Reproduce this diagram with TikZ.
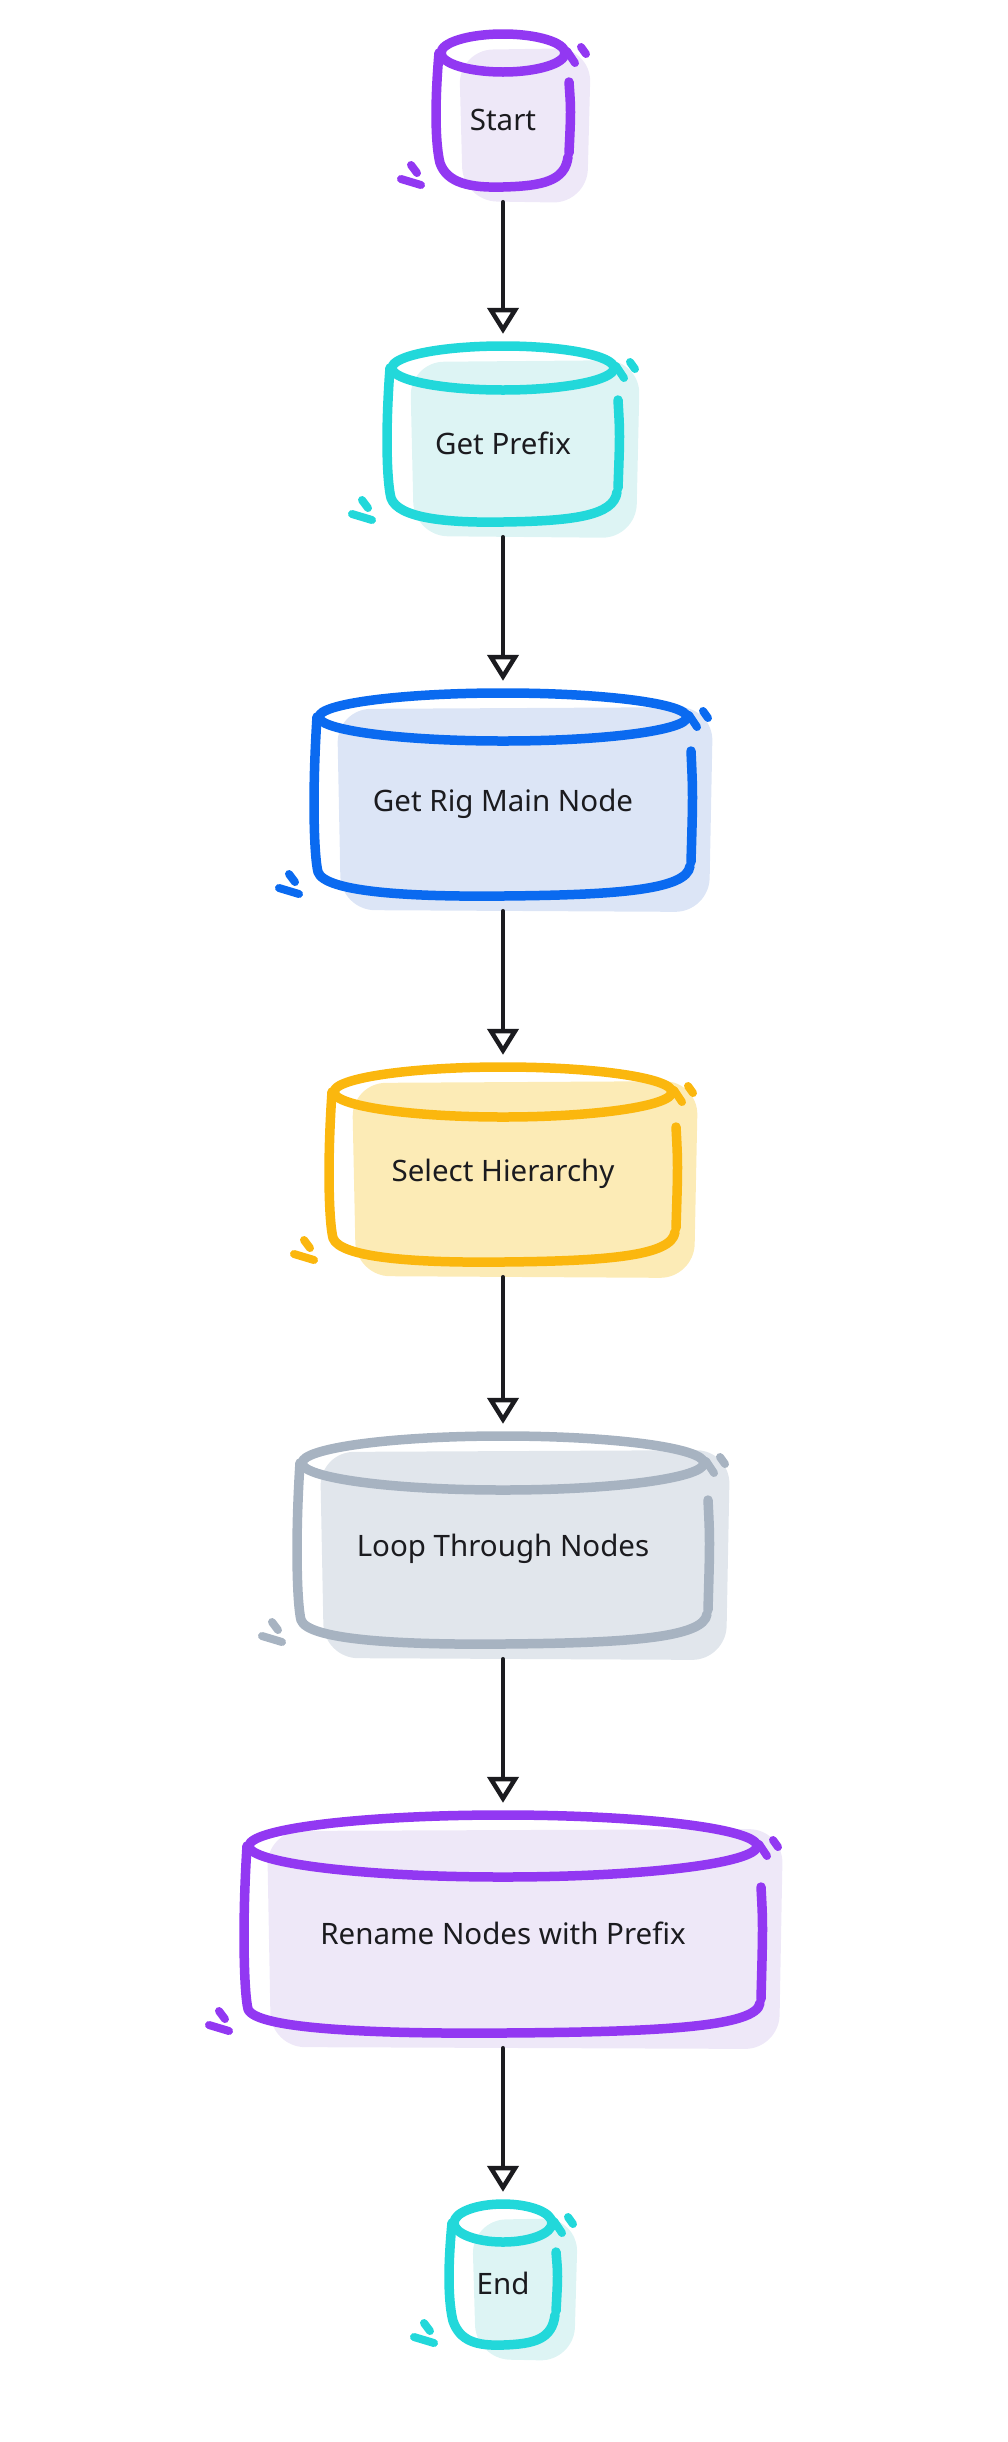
\documentclass[tikz,border=0pt]{standalone}
\usepackage{fontspec}
\setmainfont{Noto Sans}[FontFace={m}{n}{Noto Sans Medium}]
\usepackage{xcolor}
\definecolor{ink}{HTML}{1B1B1F}
\definecolor{grape}{HTML}{9238F2}
\definecolor{grapewash}{HTML}{EEE8F8}
\definecolor{aqua}{HTML}{22D8DA}
\definecolor{aquawash}{HTML}{DDF4F4}
\definecolor{azure}{HTML}{0A6AF0}
\definecolor{azurewash}{HTML}{DCE5F6}
\definecolor{amber}{HTML}{FBB70E}
\definecolor{amberwash}{HTML}{FCEBB6}
\definecolor{slate}{HTML}{A7B3C1}
\definecolor{slatewash}{HTML}{E1E6EC}
\usetikzlibrary{arrows.meta}

\begin{document}
\begin{tikzpicture}[x=1pt, y=-1pt, line cap=round, line join=round,
		cylbox/.style={inner sep=0pt, font=\fontsize{29.5}{34}\selectfont, text=ink},
		rim/.style={line width=9.5pt},
		flow/.style={line width=4.5pt, ink, -{Triangle[open, length=26pt, width=31pt]},
			shorten <=6pt, shorten >=21pt}]
	\useasboundingbox (0,0) rectangle (1008,2442);

	% Sketched cylinders: name/centre/top/bottom/half width/rim/colours/text
	\foreach \n/\cx/\yt/\yb/\hw/\e/\col/\wash/\txt in {
			start/503/34/187/66/19/grape/grapewash/Start,
			prefix/503/346/522/115/22/aqua/aquawash/Get Prefix,
			rig/503/693/896/188/24/azure/azurewash/Get Rig Main Node,
			select/503/1067/1262/173/25/amber/amberwash/Select Hierarchy,
			loop/503/1436/1644/205/27/slate/slatewash/Loop Through Nodes,
			rename/503/1815/2033/258/31/grape/grapewash/Rename Nodes with Prefix,
			stop/503/2204/2345/53/19/aqua/aquawash/End}{
		\pgfmathsetmacro\xl{\cx-\hw}
		\pgfmathsetmacro\xr{\cx+\hw}
		\pgfmathsetmacro\ym{(\yt+\yb)/2}
		% wash, pushed right and down
		\fill[\wash, rounded corners=34pt] ({\xl+22},{\yt+16}) -- ({\xr+22},{\yt+14})
			-- ({\xr+18},{\yb+16}) -- ({\xl+26},{\yb+14}) -- cycle;
		% top rim
		\draw[\col, rim] (\cx,{\yt+\e}) ellipse [x radius={(\hw-4)*1pt}, y radius={\e*1pt}];
		% left side and bottom
		\draw[\col, rim] ({\xl+2},{\yt+\e}) .. controls ({\xl-3},{\ym}) and ({\xl-1},{\yb-40}) .. ({\xl+3},{\yb-24})
			.. controls ({\xl+10},{\yb-4}) and ({\cx-0.5*\hw},{\yb+1}) .. (\cx,\yb)
			.. controls ({\cx+0.6*\hw},{\yb-1}) and ({\xr-4},{\yb-6}) .. ({\xr-1},{\yb-30});
		% right side
		\draw[\col, rim] (\xr,{\yt+2*\e+10}) .. controls ({\xr+2},\ym) .. (\xr,{\yb-34});
		% ticks
		\draw[\col, line width=8pt] ({\xr-2},{\yt+\e-2}) -- ({\xr+6},{\yt+\e+10});
		\draw[\col, line width=8pt] ({\xr+12},{\yt+\e-6}) -- ({\xr+17},{\yt+\e+1});
		\draw[\col, line width=8pt] ({\xl-26},{\yb-22}) -- ({\xl-20},{\yb-14});
		\draw[\col, line width=8pt] ({\xl-36},{\yb-8}) -- ({\xl-16},{\yb-2});
		\node[cylbox, minimum width={2*\hw}, minimum height={\yb-\yt}] (\n) at (\cx,{\ym+9}) {\txt};
	}

	% Flow
	\foreach \a/\b in {start/prefix, prefix/rig, rig/select, select/loop, loop/rename, rename/stop}
		\draw[flow] (\a.south) -- (\b.north);
\end{tikzpicture}
\end{document}
